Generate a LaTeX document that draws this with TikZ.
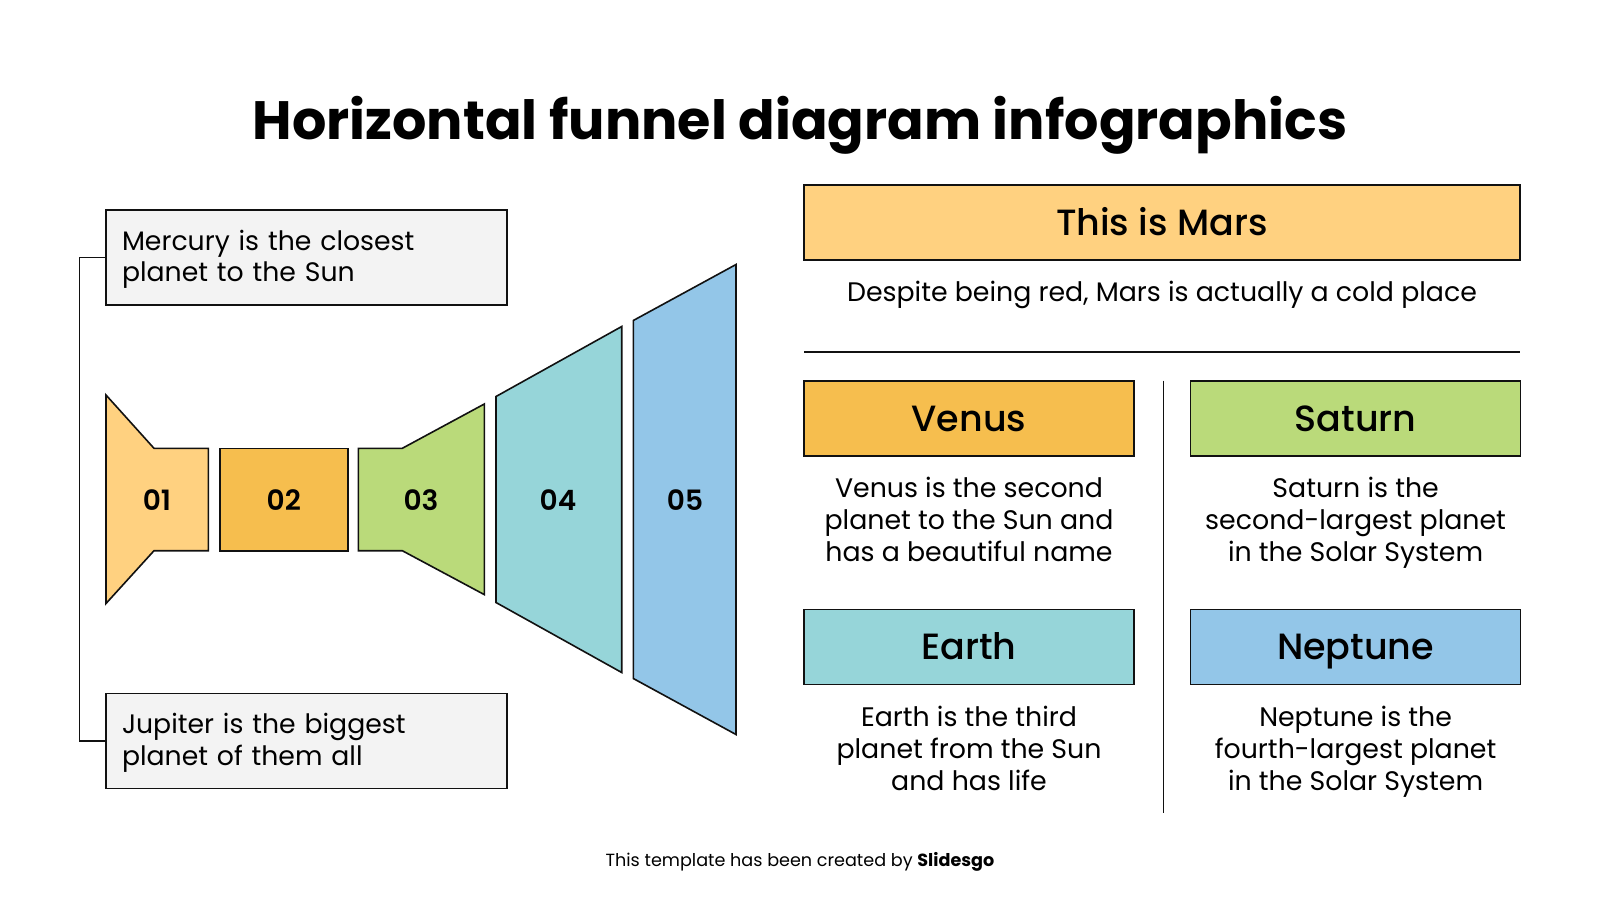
\documentclass[tikz,border=0pt]{standalone}
\usepackage{fontspec}
\setmainfont{Poppins}
\newfontfamily\medfont{Poppins Medium}
\newfontfamily\semifont{Poppins SemiBold}
\definecolor{cA}{HTML}{FFD180}
\definecolor{cB}{HTML}{F6BE4E}
\definecolor{cC}{HTML}{BADA7A}
\definecolor{cD}{HTML}{96D5D9}
\definecolor{cE}{HTML}{93C6E8}
\definecolor{cG}{HTML}{F3F3F3}
\definecolor{ink}{HTML}{111111}
\begin{document}
\begin{tikzpicture}[x=1pt,y=-1pt,
  outl/.style={draw=ink,line width=1.6pt,line join=miter},
  notebox/.style={outl,fill=cG,inner xsep=16pt,text width=369pt,align=left,minimum height=95pt,
    font=\fontsize{26.7}{31.5}\selectfont,execute at begin node=\strut,execute at end node=\strut,text depth=37pt},
  headbox/.style={outl,minimum height=75pt,text height=25.5pt,text depth=0pt,font=\medfont\fontsize{36.5}{40}\selectfont},
  desc/.style={align=center,font=\fontsize{26.8}{31.7}\selectfont,execute at begin node=\strut,execute at end node=\strut},
  num/.style={font=\semifont\fontsize{28}{30}\selectfont},
  rule/.style={draw=ink,line width=1.4pt}]
\useasboundingbox (0,0) rectangle (1600,900);
\fill[white] (0,0) rectangle (1600,900);
% title
\node[font=\bfseries\fontsize{54}{60}\selectfont] (title) at (800,125) {Horizontal funnel diagram infographics};
% note boxes
\node[notebox] (merc) at (306.5,257.5) {Mercury is the closest\\planet to the Sun};
\node[notebox] (jup) at (306.5,741) {Jupiter is the biggest\\planet of them all};
\draw[rule] (merc.west) -- ++(-26,0) |- (jup.west);
% funnel shapes
\path[outl,fill=cA] (106,395) -- (154,448.3) -- (208.3,448.3) -- (208.3,550.7) -- (154,550.7) -- (106,603.5) -- cycle;
\path[outl,fill=cB] (220,448.3) rectangle (347.7,550.7);
\path[outl,fill=cC] (358.3,448.3) -- (402.3,448.3) -- (484.3,404) -- (484.3,594.6) -- (402.3,550.7) -- (358.3,550.7) -- cycle;
\path[outl,fill=cD] (496,396.5) -- (621.7,326.5) -- (621.7,672.5) -- (496,602.5) -- cycle;
\path[outl,fill=cE] (633.3,320.5) -- (736,264.5) -- (736,734.5) -- (633.3,678.5) -- cycle;
\node[num] (n1) at (157,500) {01};
\node[num] (n2) at (283.8,500) {02};
\node[num] (n3) at (421,500) {03};
\node[num] (n4) at (558,500) {04};
\node[num] (n5) at (685,500) {05};
% right side
\node[headbox,fill=cA,minimum width=716pt] (mars) at (1162,222.5) {This is Mars};
\node[desc] (marsd) at (1162,295) {Despite being red, Mars is actually a cold place};
\coordinate (hl) at (804,352);
\coordinate (hr) at (1520,352);
\draw[rule] (hl) -- (hr);
\coordinate (vt) at (1163.3,380.6);
\coordinate (vb) at (1163.3,813.3);
\draw[rule] (vt) -- (vb);
\node[headbox,fill=cB,minimum width=330pt] (venus) at (969,418.3) {Venus};
\node[headbox,fill=cC,minimum width=330pt] (saturn) at (1355.6,418.3) {Saturn};
\node[headbox,fill=cD,minimum width=330pt] (earth) at (969,647) {Earth};
\node[headbox,fill=cE,minimum width=330pt] (nep) at (1355.6,647) {Neptune};
\node[desc] (venusd) at (969,524) {Venus is the second\\planet to the Sun and\\has a beautiful name};
\node[desc] (saturnd) at (1355.6,524) {Saturn is the\\second-largest planet\\in the Solar System};
\node[desc] (earthd) at (969,753) {Earth is the third\\planet from the Sun\\and has life};
\node[desc] (nepd) at (1355.6,753) {Neptune is the\\fourth-largest planet\\in the Solar System};
% footer
\node[font=\fontsize{17.6}{20}\selectfont] (foot) at (800,862) {This template has been created by \textbf{Slidesgo}};
\end{tikzpicture}
\end{document}
